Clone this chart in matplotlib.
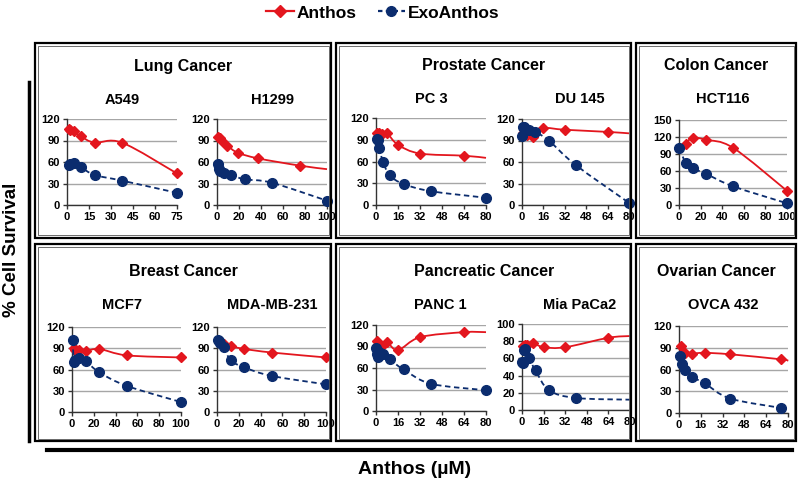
import matplotlib
matplotlib.use('Agg')
import matplotlib.pyplot as plt
from matplotlib.path import Path
from matplotlib.patches import PathPatch, Rectangle
from matplotlib.lines import Line2D
import numpy as np

plt.rcParams['font.family'] = ['Liberation Sans', 'DejaVu Sans']
plt.rcParams['font.weight'] = 'bold'

RED = '#E3161E'
BLUE = '#0B2C6E'
W, H = 800, 484

series_names = ["Anthos", "ExoAnthos"]
group_titles = ["Lung Cancer", "Prostate Cancer", "Colon Cancer",
                "Breast Cancer", "Pancreatic Cancer", "Ovarian Cancer"]

# ---- data (µM, % cell survival); a trailing point marked "tail" draws line only
a549_anthos_x = [1.17, 2.34, 4.69, 9.38, 18.75, 37.5, 75]
a549_anthos_y = [106, 105, 103, 96, 87, 87, 44]
a549_exo_x = [1.17, 2.34, 4.69, 9.38, 18.75, 37.5, 75]
a549_exo_y = [56, 57, 58, 53, 42, 34, 17]

h1299_anthos_x = [1.17, 2.34, 4.69, 9.38, 18.75, 37.5, 75, 100]
h1299_anthos_y = [95, 93, 90, 83, 73, 65, 55, 50]
h1299_exo_x = [0.78, 1.56, 3.13, 6.25, 12.5, 25, 50, 100]
h1299_exo_y = [57, 50, 47, 44, 42, 36, 31, 6]

pc3_anthos_x = [1, 2, 4, 8, 16, 32, 64, 80]
pc3_anthos_y = [100, 99, 98, 99, 83, 71, 68, 65]
pc3_exo_x = [0.625, 1.25, 2.5, 5, 10, 20, 40, 80]
pc3_exo_y = [91, 90, 79, 60, 41, 29, 19, 10]

du145_anthos_x = [1, 2, 4, 8, 16, 32, 64, 80]
du145_anthos_y = [101, 99, 98, 95, 107, 105, 102, 100]
du145_exo_x = [0.3125, 0.625, 1.25, 2.5, 5, 10, 20, 40, 80]
du145_exo_y = [96, 109, 109, 106, 105, 102, 90, 56, 3]

hct116_anthos_x = [0, 6.25, 12.5, 25, 50, 100]
hct116_anthos_y = [100, 108, 119, 115, 101, 25]
hct116_exo_x = [0, 6.25, 12.5, 25, 50, 100]
hct116_exo_y = [100, 75, 65, 55, 33, 3]

mcf7_anthos_x = [1.56, 3.13, 6.25, 12.5, 25, 50, 100]
mcf7_anthos_y = [91, 87, 87, 86, 89, 80, 77]
mcf7_exo_x = [0.78, 1.56, 3.13, 6.25, 12.5, 25, 50, 100]
mcf7_exo_y = [101, 71, 74, 76, 72, 56, 37, 14]

mda_anthos_x = [1.56, 3.13, 6.25, 12.5, 25, 50, 100]
mda_anthos_y = [100, 98, 96, 93, 89, 84, 77]
mda_exo_x = [0.78, 1.56, 3.13, 6.25, 12.5, 25, 50, 100]
mda_exo_y = [101, 100, 97, 92, 73, 63, 51, 39]

panc1_anthos_x = [1, 2, 4, 8, 16, 32, 64, 80]
panc1_anthos_y = [98, 93, 91, 96, 85, 103, 110, 110]
panc1_exo_x = [0.3125, 0.625, 1.25, 2.5, 5, 10, 20, 40, 80]
panc1_exo_y = [88, 79, 75, 82, 79, 72, 58, 38, 29]

mpc_anthos_x = [1, 2, 4, 8, 16, 32, 64, 80]
mpc_anthos_y = [75, 76, 76, 78, 73, 73, 84, 86]
mpc_exo_x = [0.3125, 0.625, 1.25, 2.5, 5, 10, 20, 40, 80]
mpc_exo_y = [56, 55, 70, 71, 61, 46, 23, 14, 12]

ovca_anthos_x = [1.17, 4.69, 9.38, 18.75, 37.5, 75, 80]
ovca_anthos_y = [92, 83, 82, 83, 81, 74, 72]
ovca_exo_x = [0.59, 2.34, 4.69, 9.38, 18.75, 37.5, 75]
ovca_exo_y = [79, 67, 60, 50, 41, 20, 7]

# panel: name, red data, blue data, red tail, blue tail, xmax, xstep, ymax, ystep, axes px (l, r, t, b), title px
panels = [
    ("A549", a549_anthos_x, a549_anthos_y, a549_exo_x, a549_exo_y, False, False, 75, 15, 120, 30, (67, 177, 119, 205), (122, 100)),
    ("H1299", h1299_anthos_x, h1299_anthos_y, h1299_exo_x, h1299_exo_y, True, False, 100, 20, 120, 30, (217, 327, 119, 205), (272, 100)),
    ("PC 3", pc3_anthos_x, pc3_anthos_y, pc3_exo_x, pc3_exo_y, True, False, 80, 16, 120, 30, (376, 486, 118, 205), (431, 99)),
    ("DU 145", du145_anthos_x, du145_anthos_y, du145_exo_x, du145_exo_y, True, False, 80, 16, 120, 30, (522, 629, 119, 205), (580, 99)),
    ("HCT116", hct116_anthos_x, hct116_anthos_y, hct116_exo_x, hct116_exo_y, False, False, 100, 20, 150, 30, (679, 787, 120, 205), (723, 99)),
    ("MCF7", mcf7_anthos_x, mcf7_anthos_y, mcf7_exo_x, mcf7_exo_y, False, False, 100, 20, 120, 30, (72, 181, 327, 412), (122, 305)),
    ("MDA-MB-231", mda_anthos_x, mda_anthos_y, mda_exo_x, mda_exo_y, False, False, 100, 20, 120, 30, (217, 326, 327, 412), (272, 305)),
    ("PANC 1", panc1_anthos_x, panc1_anthos_y, panc1_exo_x, panc1_exo_y, True, False, 80, 16, 120, 30, (376, 486, 325, 411), (440, 305)),
    ("Mia PaCa2", mpc_anthos_x, mpc_anthos_y, mpc_exo_x, mpc_exo_y, True, True, 80, 16, 100, 20, (522, 630, 324, 410), (580, 305)),
    ("OVCA 432", ovca_anthos_x, ovca_anthos_y, ovca_exo_x, ovca_exo_y, True, False, 80, 16, 120, 30, (679, 788, 326, 413), (723, 305)),
]

group_boxes = [(35, 331, 43, 238), (336, 631, 43, 238), (636, 796, 43, 238),
               (35, 331, 244, 441), (336, 631, 244, 441), (636, 796, 244, 441)]
group_title_pos = [(183, 66), (484, 66), (716, 66), (183, 272), (484, 272), (716, 272)]


def fx(x):
    return x / W


def fy(y):
    return 1 - y / H


def smooth_curve(ax, x, y, **kw):
    pts = ax.transData.transform(np.column_stack([x, y]).astype(float))
    n = len(pts)
    verts = [pts[0]]
    codes = [Path.MOVETO]
    for i in range(n - 1):
        p0 = pts[i - 1] if i > 0 else pts[i]
        p1 = pts[i]
        p2 = pts[i + 1]
        p3 = pts[i + 2] if i + 2 < n else pts[i + 1]
        c1 = p1 + (p2 - p0) / 6.0
        c2 = p2 - (p3 - p1) / 6.0
        verts += [c1, c2, p2]
        codes += [Path.CURVE4] * 3
    verts = ax.transData.inverted().transform(np.array(verts))
    patch = PathPatch(Path(verts, codes), fill=False, clip_on=False, **kw)
    ax.add_patch(patch)


fig = plt.figure(figsize=(8, 4.84), dpi=100)

# group boxes
for (l, r, t, b) in group_boxes:
    fig.add_artist(Rectangle((fx(l), fy(b)), fx(r) - fx(l), fy(t) - fy(b),
                             transform=fig.transFigure, fill=False, lw=1.6, ec='black'))
    fig.add_artist(Rectangle((fx(l + 2.5), fy(b - 2.5)), fx(r - 2.5) - fx(l + 2.5), fy(t + 2.5) - fy(b - 2.5),
                             transform=fig.transFigure, fill=False, lw=0.6, ec='#555555'))
for name, (px, py) in zip(group_titles, group_title_pos):
    fig.text(fx(px), fy(py), name, ha='center', va='center', fontsize=11.5, fontweight='bold')

for (name, rx, ry, bx, by, rtail, btail, xmax, xstep, ymax, ystep, (l, r, t, b), (tx, ty)) in panels:
    ax = fig.add_axes([fx(l), fy(b), fx(r) - fx(l), fy(t) - fy(b)])
    ax.set_xlim(0, xmax)
    ax.set_ylim(0, ymax)
    ax.set_xticks(np.arange(0, xmax + 0.1, xstep))
    ax.set_yticks(np.arange(0, ymax + 0.1, ystep))
    ax.set_xticklabels([f"{v:g}" for v in np.arange(0, xmax + 0.1, xstep)])
    ax.set_yticklabels([f"{v:g}" for v in np.arange(0, ymax + 0.1, ystep)])
    for sp in ['top', 'right']:
        ax.spines[sp].set_visible(False)
    for sp in ['left', 'bottom']:
        ax.spines[sp].set_color('#333333')
        ax.spines[sp].set_linewidth(1.0)
    ax.tick_params(axis='both', direction='out', length=3, width=1, color='#333333',
                   labelsize=8, pad=2)
    for lab in ax.get_xticklabels() + ax.get_yticklabels():
        lab.set_fontweight('bold')
    ax.grid(axis='y', color='#A6A6A6', lw=1.0)
    ax.set_axisbelow(True)
    ax.patch.set_alpha(0)

    smooth_curve(ax, rx, ry, ec=RED, lw=1.3, zorder=3)
    mrx = rx[:-1] if rtail else rx
    mry = ry[:-1] if rtail else ry
    ax.plot(mrx, mry, ls='none', marker='D', ms=5.5, color=RED, clip_on=False, zorder=4)

    smooth_curve(ax, bx, by, ec=BLUE, lw=1.3, ls=(0, (3, 2)), zorder=5)
    mbx = bx[:-1] if btail else bx
    mby = by[:-1] if btail else by
    ax.plot(mbx, mby, ls='none', marker='o', ms=7, color=BLUE, clip_on=False, zorder=6)

    fig.text(fx(tx), fy(ty), name, ha='center', va='center', fontsize=10.5, fontweight='bold')

# legend
handles = [Line2D([], [], color=RED, lw=1.6, marker='D', ms=6),
           Line2D([], [], color=BLUE, lw=1.6, ls=(0, (2, 1.5)), marker='o', ms=7)]
fig.legend(handles, series_names, loc='center', bbox_to_anchor=(fx(383), fy(13)), ncol=2,
           frameon=False, handlelength=1.6, handletextpad=0.15, columnspacing=1.2,
           prop={'weight': 'bold', 'size': 12.5})

# side decoration
fig.add_artist(Line2D([fx(29), fx(29)], [fy(82), fy(441)], transform=fig.transFigure, color='black', lw=2.5))
fig.text(fx(12), fy(250), "% Cell Survival", rotation=90, ha='center', va='center',
         fontsize=13.5, fontweight='bold')
fig.add_artist(Line2D([fx(47), fx(792)], [fy(450), fy(450)], transform=fig.transFigure, color='black', lw=3))
fig.text(fx(415), fy(470), "Anthos (\u00b5M)", ha='center', va='center', fontsize=14, fontweight='bold')

fig.savefig('out.png', dpi=100)
